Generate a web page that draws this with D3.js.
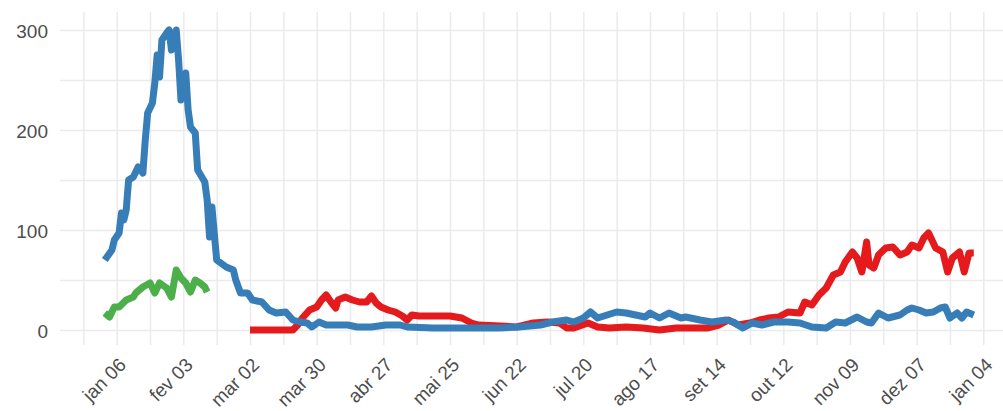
<!DOCTYPE html>
<html>
<head>
<meta charset="utf-8">
<script src="https://cdn.jsdelivr.net/npm/d3@7"></script>
<style>
  body { margin: 0; background: #ffffff; }
  svg { display: block; font-family: "Liberation Sans", Arial, sans-serif; }
</style>
</head>
<body>
<div id="chart"></div>
<script>
// Series (date, value)
var redDates = ["2020-03-02","2020-03-20","2020-03-22","2020-03-24","2020-03-27","2020-03-30","2020-04-01","2020-04-03","2020-04-05","2020-04-07","2020-04-08","2020-04-11","2020-04-14","2020-04-17","2020-04-20","2020-04-22","2020-04-24","2020-04-26","2020-04-29","2020-05-02","2020-05-05","2020-05-07","2020-05-09","2020-05-12","2020-05-18","2020-05-25","2020-05-30","2020-06-03","2020-06-06","2020-06-15","2020-06-22","2020-06-29","2020-07-05","2020-07-10","2020-07-13","2020-07-16","2020-07-22","2020-07-26","2020-07-31","2020-08-07","2020-08-14","2020-08-21","2020-08-28","2020-09-04","2020-09-10","2020-09-15","2020-09-19","2020-09-23","2020-09-28","2020-10-02","2020-10-06","2020-10-10","2020-10-14","2020-10-19","2020-10-21","2020-10-24","2020-10-27","2020-10-30","2020-11-02","2020-11-05","2020-11-07","2020-11-10","2020-11-12","2020-11-14","2020-11-16","2020-11-17","2020-11-19","2020-11-21","2020-11-24","2020-11-27","2020-11-30","2020-12-03","2020-12-05","2020-12-08","2020-12-10","2020-12-12","2020-12-15","2020-12-18","2020-12-20","2020-12-22","2020-12-25","2020-12-27","2020-12-29","2020-12-31"];
var redValues = [0,0,5,12,20,23,30,35,28,22,30,33,30,28,28,34,27,23,20,18,14,10,15,14,14,14,12,7,5,4,3,7,8,7,2,2,7,3,2,3,2,0,2,2,2,5,10,5,7,10,12,13,18,17,28,25,35,42,55,58,68,78,72,58,88,65,62,75,82,83,75,78,85,82,92,97,82,78,58,72,78,58,77,77];

var blueDates = ["2020-01-01","2020-01-04","2020-01-05","2020-01-07","2020-01-08","2020-01-09","2020-01-10","2020-01-11","2020-01-13","2020-01-15","2020-01-17","2020-01-18","2020-01-19","2020-01-21","2020-01-22","2020-01-23","2020-01-24","2020-01-25","2020-01-27","2020-01-28","2020-01-29","2020-01-31","2020-02-01","2020-02-02","2020-02-04","2020-02-05","2020-02-06","2020-02-08","2020-02-09","2020-02-12","2020-02-13","2020-02-14","2020-02-15","2020-02-17","2020-02-21","2020-02-24","2020-02-25","2020-02-27","2020-03-01","2020-03-03","2020-03-07","2020-03-10","2020-03-13","2020-03-17","2020-03-20","2020-03-23","2020-03-26","2020-03-28","2020-03-31","2020-04-03","2020-04-08","2020-04-12","2020-04-16","2020-04-22","2020-04-28","2020-05-04","2020-05-07","2020-05-18","2020-06-01","2020-06-15","2020-06-23","2020-07-02","2020-07-07","2020-07-13","2020-07-16","2020-07-20","2020-07-23","2020-07-26","2020-07-30","2020-08-03","2020-08-07","2020-08-11","2020-08-15","2020-08-17","2020-08-21","2020-08-25","2020-08-30","2020-09-01","2020-09-07","2020-09-12","2020-09-18","2020-09-21","2020-09-25","2020-09-29","2020-10-03","2020-10-08","2020-10-14","2020-10-19","2020-10-24","2020-10-30","2020-11-03","2020-11-07","2020-11-12","2020-11-16","2020-11-18","2020-11-21","2020-11-25","2020-11-30","2020-12-03","2020-12-05","2020-12-08","2020-12-11","2020-12-14","2020-12-17","2020-12-19","2020-12-21","2020-12-24","2020-12-26","2020-12-28","2020-12-31"];
var blueValues = [70,80,90,97,117,110,120,150,153,163,157,190,217,227,247,275,253,290,297,300,280,300,270,230,257,220,203,197,160,148,130,93,123,70,63,60,50,37,37,30,28,20,17,18,10,8,7,3,8,5,5,5,3,3,5,5,3,2,2,2,3,5,8,10,8,12,18,12,15,18,17,15,13,17,12,17,12,13,10,8,10,8,2,7,5,8,8,7,3,2,8,7,13,8,7,17,12,15,20,22,20,17,18,22,23,12,17,12,18,15];

var greenDates = ["2020-01-01","2020-01-03","2020-01-05","2020-01-07","2020-01-10","2020-01-13","2020-01-14","2020-01-17","2020-01-20","2020-01-22","2020-01-24","2020-01-27","2020-01-29","2020-01-31","2020-02-02","2020-02-04","2020-02-06","2020-02-08","2020-02-10","2020-02-12","2020-02-13"];
var greenValues = [17,13,23,23,30,33,37,43,47,37,47,42,33,60,52,47,38,50,47,43,38];

// Axis breaks and labels
var yTicks = [0, 100, 200, 300];
var yGrid = [0, 50, 100, 150, 200, 250, 300];
var monthNames = ["jan","fev","mar","abr","mai","jun","jul","ago","set","out","nov","dez"];

var width = 1003;
var height = 411;
var panel = { left: 60, right: 1003, top: 12, bottom: 345 };

var parse = d3.timeParse("%Y-%m-%d");
var locale = d3.timeFormatLocale({
  dateTime: "%d/%m/%Y %H:%M:%S", date: "%d/%m/%Y", time: "%H:%M:%S",
  periods: ["AM", "PM"],
  days: ["domingo","segunda","terça","quarta","quinta","sexta","sábado"],
  shortDays: ["dom","seg","ter","qua","qui","sex","sáb"],
  months: monthNames, shortMonths: monthNames
});
var fmt = locale.format("%b %d");

var x = d3.scaleTime()
  .domain([parse("2020-01-06"), parse("2021-01-04")])
  .range([116.7, 983.3]);

var y = d3.scaleLinear()
  .domain([0, 300])
  .range([330, 30]);

// Major breaks every 4 weeks, minor breaks half-way
var start = parse("2020-01-06");
var majorTicks = d3.range(0, 14).map(function(i) { return d3.timeDay.offset(start, i * 28); });
var minorTicks = d3.range(-1, 13).map(function(i) { return d3.timeDay.offset(start, i * 28 + 14); })
  .filter(function(d) { return x(d) > panel.left && x(d) < panel.right; });

var svg = d3
  .select("#chart")
  .append("svg")
  .attr("width", width)
  .attr("height", height);

// Grid lines
svg.append("g")
  .attr("transform", "translate(" + panel.left + ",0)")
  .call(d3.axisLeft(y).tickValues(yGrid).tickSize(-(panel.right - panel.left)).tickFormat(""))
  .call(function(g) { g.select(".domain").remove(); })
  .selectAll("line")
  .attr("stroke", "#ebebeb")
  .attr("stroke-width", 1.5);

svg.append("g")
  .attr("transform", "translate(0," + panel.bottom + ")")
  .call(d3.axisBottom(x).tickValues(majorTicks.concat(minorTicks)).tickSize(-(panel.bottom - panel.top)).tickFormat(""))
  .call(function(g) { g.select(".domain").remove(); })
  .selectAll("line")
  .attr("stroke", "#ebebeb")
  .attr("stroke-width", 1.5);

// Lines
var line = d3.line()
  .x(function(d) { return x(d.date); })
  .y(function(d) { return y(d.value); });

var series = [
  { color: "#E41A1C", dates: redDates, values: redValues },
  { color: "#377EB8", dates: blueDates, values: blueValues },
  { color: "#4DAF4A", dates: greenDates, values: greenValues }
];

series.forEach(function(s) {
  var pts = s.dates.map(function(d, i) { return { date: parse(d), value: s.values[i] }; });
  svg.append("path")
    .datum(pts)
    .attr("d", line)
    .attr("fill", "none")
    .attr("stroke", s.color)
    .attr("stroke-width", 7)
    .attr("stroke-linejoin", "round");
});

// Y axis labels
svg.append("g")
  .attr("transform", "translate(" + panel.left + ",0)")
  .call(d3.axisLeft(y).tickValues(yTicks).tickSize(0).tickPadding(12))
  .call(function(g) { g.select(".domain").remove(); })
  .selectAll("text")
  .attr("dy", "0.4em")
  .attr("fill", "#4d4d4d")
  .style("font-size", "19px")
  .style("font-family", "Liberation Sans, Arial, sans-serif");

// X axis labels, rotated
svg.append("g")
  .attr("transform", "translate(0," + panel.bottom + ")")
  .call(d3.axisBottom(x).tickValues(majorTicks).tickSize(0).tickFormat(fmt))
  .call(function(g) { g.select(".domain").remove(); })
  .selectAll("text")
  .attr("x", 0)
  .attr("y", 0)
  .attr("dy", "0em")
  .attr("text-anchor", "end")
  .attr("transform", "translate(10,21) rotate(-45)")
  .attr("fill", "#4d4d4d")
  .style("font-size", "19px")
  .style("font-family", "Liberation Sans, Arial, sans-serif");
</script>
</body>
</html>
